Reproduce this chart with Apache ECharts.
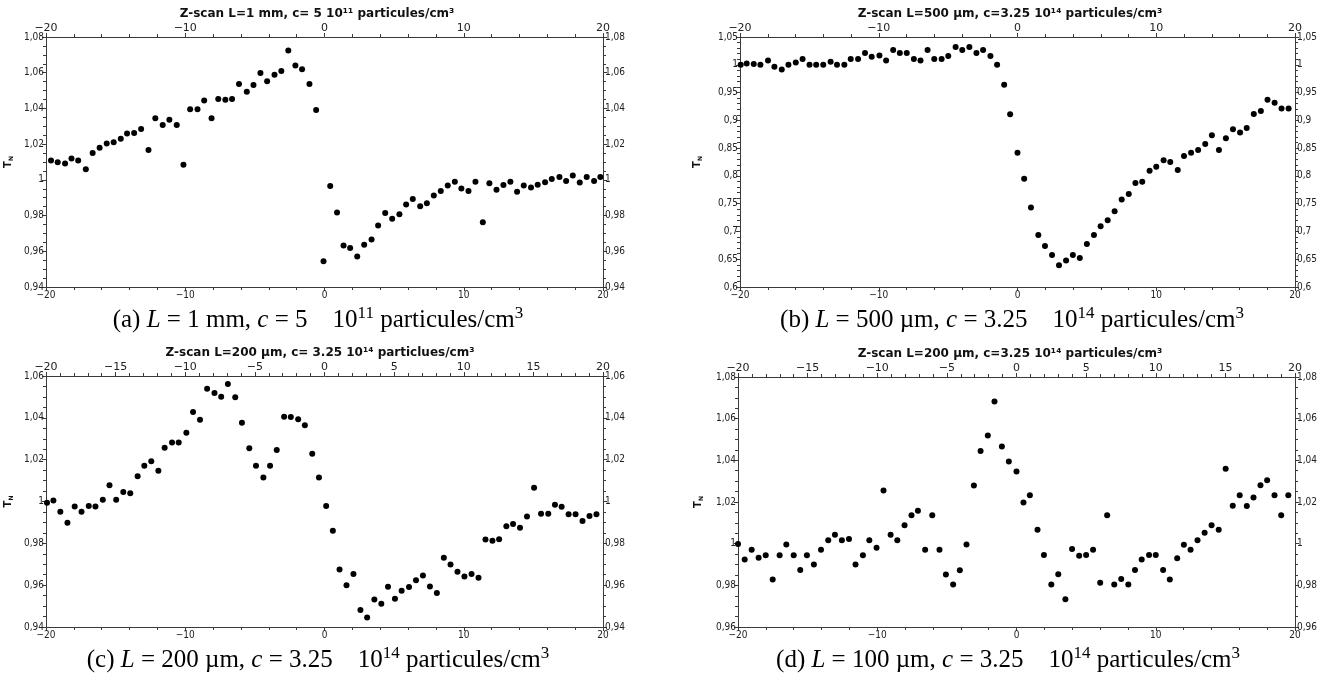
<!DOCTYPE html>
<html>
<head>
<meta charset="utf-8">
<script src="https://cdn.jsdelivr.net/npm/echarts@6/dist/echarts.min.js"></script>
<style>
  html, body { margin: 0; background: #fff; }
  #chart { width: 1338px; height: 687px; }
</style>
</head>
<body>
<div id="chart"></div>
<script>
// (a) L = 1 mm
var zA = [-19.64,-19.16,-18.63,-18.17,-17.69,-17.14,-16.65,-16.15,-15.64,-15.14,-14.63,-14.18,-13.67,-13.17,-12.64,-12.15,-11.62,-11.14,-10.61,-10.13,-9.65,-9.12,-8.64,-8.11,-7.63,-7.12,-6.64,-6.14,-5.58,-5.10,-4.60,-4.12,-3.59,-3.10,-2.60,-2.09,-1.61,-1.08,-0.60,-0.07,0.41,0.90,
  1.37,1.84,2.35,2.85,3.38,3.85,4.36,4.86,5.38,5.86,6.34,6.87,7.35,7.85,8.35,8.85,9.36,9.83,10.34,10.84,11.37,11.84,12.35,12.85,13.35,13.83,14.31,14.83,15.31,15.84,16.32,16.87,17.35,17.83,18.33,18.83,19.36,19.81];
var tA = [1.0109,1.0098,1.0091,1.0119,1.0109,1.0059,1.015,1.018,1.0203,1.021,1.023,1.0259,1.0262,1.0285,1.0167,1.0345,1.0307,1.0337,1.0307,1.0085,1.0395,1.0395,1.0445,1.0345,1.0453,1.0449,1.0453,1.0537,1.0494,1.0531,1.0598,1.0552,1.0589,1.061,1.0725,1.064,1.0619,1.0537,1.0391,0.9544,0.9966,0.9817,
  0.9633,0.9618,0.9571,0.9636,0.9666,0.9744,0.9815,0.9782,0.9808,0.9862,0.9893,0.9852,0.9869,0.9912,0.9938,0.9968,0.999,0.9951,0.9938,0.999,0.9763,0.9981,0.9944,0.9971,0.999,0.9934,0.9968,0.9957,0.9973,0.9986,1.0005,1.0016,0.9994,1.0025,0.9985,1.0016,0.9994,1.0016];

// (b) L = 500 µm
var zB = [-19.95,-19.52,-19.01,-18.53,-17.98,-17.52,-16.99,-16.51,-15.98,-15.49,-14.99,-14.51,-14.0,-13.47,-13.01,-12.48,-12.02,-11.49,-10.99,-10.51,-9.95,-9.47,-8.96,-8.48,-7.98,-7.47,-6.99,-6.48,-6.0,-5.47,-4.99,-4.46,-3.98,-3.47,-2.96,-2.48,-1.95,-1.47,-0.96,-0.53,
  0.0,0.48,0.97,1.5,1.98,2.49,2.99,3.5,3.99,4.49,5.0,5.51,5.99,6.5,7.0,7.51,8.02,8.5,8.99,9.52,10.0,10.53,11.01,11.55,12.0,12.51,13.02,13.53,14.01,14.52,15.02,15.53,16.04,16.52,17.03,17.54,18.02,18.53,19.03,19.54];
var tB = [1.0001,1.0025,1.0013,1.0001,1.0079,0.9965,0.9916,1.0001,1.0043,1.0103,1.0001,1.0001,1.0001,1.0055,1.0001,1.0001,1.0103,1.0103,1.0211,1.0145,1.0169,1.0079,1.0265,1.0211,1.0211,1.0103,1.0079,1.0265,1.0103,1.0103,1.0157,1.032,1.0265,1.032,1.0211,1.0265,1.0157,1.0001,0.964,0.911,
  0.8418,0.7949,0.7431,0.6938,0.6739,0.6577,0.639,0.6475,0.6577,0.6523,0.6776,0.6938,0.7094,0.7203,0.7365,0.7576,0.7672,0.7871,0.7895,0.8093,0.8165,0.828,0.825,0.8105,0.8358,0.8418,0.8466,0.8575,0.8731,0.8466,0.8677,0.8839,0.8779,0.8863,0.9116,0.917,0.9369,0.9315,0.9212,0.9212];

// (c) L = 200 µm
var zC = [-19.93,-19.47,-18.97,-18.46,-17.94,-17.45,-16.93,-16.45,-15.92,-15.44,-14.96,-14.45,-13.95,-13.42,-12.94,-12.44,-11.93,-11.48,-10.95,-10.47,-9.92,-9.44,-8.94,-8.43,-7.9,-7.42,-6.94,-6.41,-5.93,-5.4,-4.92,-4.39,-3.91,-3.43,-2.9,-2.42,-1.89,-1.41,-0.88,-0.4,0.12,0.6,1.08,
  1.58,2.08,2.58,3.06,3.58,4.08,4.56,5.06,5.54,6.07,6.57,7.07,7.57,8.07,8.57,9.05,9.55,10.05,10.56,11.06,11.56,12.06,12.54,13.06,13.54,14.04,14.54,15.05,15.55,16.07,16.55,17.03,17.53,18.03,18.53,19.03,19.53];
var tC = [0.9994,1.0005,0.9951,0.9898,0.9976,0.9951,0.9979,0.9976,1.0008,1.0078,1.0008,1.0045,1.004,1.0121,1.0171,1.0192,1.0147,1.0257,1.0282,1.0282,1.0329,1.0428,1.0391,1.0539,1.0519,1.0501,1.0562,1.0498,1.0377,1.0254,1.0171,1.0115,1.0171,1.0246,1.0405,1.0404,1.0393,1.0364,1.0228,1.0115,0.9978,0.986,0.9675,
  0.96,0.9653,0.9481,0.9445,0.9532,0.9511,0.9592,0.9535,0.9573,0.9591,0.9624,0.9646,0.9594,0.9562,0.9731,0.9699,0.9664,0.9642,0.9653,0.9635,0.9818,0.9812,0.982,0.9882,0.9893,0.9875,0.9928,1.0066,0.9942,0.9942,0.9985,0.9975,0.9939,0.9939,0.9907,0.9931,0.9939];

// (d) L = 100 µm
var zD = [-20.0,-19.52,-19.02,-18.52,-18.01,-17.51,-17.01,-16.53,-16.0,-15.53,-15.05,-14.55,-14.04,-13.52,-13.04,-12.54,-12.03,-11.56,-11.03,-10.57,-10.05,-9.55,-9.04,-8.56,-8.04,-7.54,-7.08,-6.56,-6.05,-5.53,-5.07,-4.55,-4.07,-3.59,-3.06,-2.58,-2.06,-1.58,-1.05,-0.55,
  0.0,0.5,0.96,1.51,1.97,2.5,3.0,3.51,3.99,4.5,5.0,5.5,6.01,6.51,7.02,7.52,8.03,8.51,8.99,9.52,10.0,10.53,11.01,11.54,12.02,12.5,13.0,13.51,14.01,14.52,15.02,15.53,16.03,16.54,17.02,17.52,18.0,18.53,19.01,19.52];
var tD = [0.9999,0.9924,0.9971,0.9932,0.9945,0.9828,0.9945,0.9996,0.9945,0.9874,0.9945,0.99,0.9971,1.0017,1.0043,1.0017,1.0022,0.99,0.9945,1.0017,0.998,1.0255,1.0043,1.0017,1.0088,1.0137,1.0158,0.9971,1.0137,0.9971,0.9852,0.9804,0.9873,0.9996,1.0279,1.0445,1.0519,1.0683,1.0466,1.0394,
  1.0346,1.0198,1.0232,1.0067,0.9946,0.9804,0.9853,0.9733,0.9975,0.9942,0.9946,0.9971,0.9813,1.0137,0.9804,0.9831,0.9804,0.9874,0.9924,0.9946,0.9946,0.9874,0.9828,0.993,0.9995,0.9971,1.0017,1.0052,1.0088,1.0067,1.036,1.0182,1.0232,1.0181,1.0222,1.028,1.0304,1.0232,1.0137,1.0232];

var titles = [
  'Z-scan L=1 mm, c= 5 10\u00b9\u00b9 particules/cm\u00b3',
  'Z-scan L=500 \u00b5m, c=3.25 10\u00b9\u2074 particules/cm\u00b3',
  'Z-scan L=200 \u00b5m, c= 3.25 10\u00b9\u2074 particlues/cm\u00b3',
  'Z-scan L=200 \u00b5m, c=3.25 10\u00b9\u2074 particules/cm\u00b3'
];
var captions = [
  ['(a) ', 'L', ' = 1 mm, ', 'c', ' = 5    10', '11'],
  ['(b) ', 'L', ' = 500 \u00b5m, ', 'c', ' = 3.25    10', '14'],
  ['(c) ', 'L', ' = 200 \u00b5m, ', 'c', ' = 3.25    10', '14'],
  ['(d) ', 'L', ' = 100 \u00b5m, ', 'c', ' = 3.25    10', '14']
];
var yRanges = [[0.94, 1.08, 0.02, 4], [0.6, 1.05, 0.05, 5], [0.94, 1.06, 0.02, 4], [0.96, 1.08, 0.02, 4]];
var topStep = [10, 10, 5, 5];

var panels = [[zA, tA], [zB, tB], [zC, tC], [zD, tD]];
var boxes = [
  {left: 46, top: 37, width: 557, height: 250, nameGap: 32, titleX: 317, capX: 318},
  {left: 740, top: 37, width: 555, height: 250, nameGap: 37, titleX: 1010, capX: 1012},
  {left: 46, top: 376, width: 557, height: 251, nameGap: 32, titleX: 320, capX: 318},
  {left: 738, top: 377, width: 557, height: 250, nameGap: 34, titleX: 1010, capX: 1008}
];

var axisCol = '#3a3a3a';
var labelFont = '"DejaVu Sans Condensed", "Liberation Sans Narrow", "DejaVu Sans", sans-serif';
var serif = '"Liberation Serif", "DejaVu Serif", serif';

function fmtX(v) {
  return v < 0 ? '\u2212' + (-v) : String(v);
}
function fmtY(v) {
  return String(parseFloat(v.toFixed(3))).replace('.', ',');
}

var grid = [], xAxis = [], yAxis = [], series = [], graphic = [];

boxes.forEach(function (b, i) {
  grid.push({left: b.left, top: b.top, width: b.width, height: b.height});
  var common = {
    type: 'value', gridIndex: i, min: -20, max: 20,
    axisLine: {show: true, onZero: false, lineStyle: {color: axisCol, width: 1}},
    axisTick: {show: true, length: 4, lineStyle: {color: axisCol}},
    minorTick: {show: true, splitNumber: 5, length: 3, lineStyle: {color: axisCol}},
    splitLine: {show: false}
  };
  xAxis.push(Object.assign({}, common, {
    position: 'bottom', interval: 10,
    axisLabel: {formatter: fmtX, fontSize: 10, color: '#222', margin: 3, fontFamily: labelFont}
  }));
  xAxis.push(Object.assign({}, common, {
    position: 'top', interval: topStep[i],
    axisLabel: {formatter: fmtX, fontSize: 11, color: '#222', margin: 3, fontFamily: '"DejaVu Sans", sans-serif'}
  }));

  var r = yRanges[i];
  var ycommon = {
    type: 'value', gridIndex: i, min: r[0], max: r[1], interval: r[2],
    axisLine: {show: true, onZero: false, lineStyle: {color: axisCol, width: 1}},
    axisTick: {show: true, length: 4, lineStyle: {color: axisCol}},
    minorTick: {show: true, splitNumber: r[3], length: 3, lineStyle: {color: axisCol}},
    splitLine: {show: false}
  };
  yAxis.push(Object.assign({}, ycommon, {
    position: 'left',
    name: '{t|T}{s|N}', nameLocation: 'middle', nameGap: b.nameGap, nameRotate: 90,
    nameTextStyle: {
      rich: {
        t: {fontSize: 10, fontWeight: 'bold', color: '#111', fontFamily: '"DejaVu Sans", sans-serif', lineHeight: 12},
        s: {fontSize: 6, fontWeight: 'bold', color: '#111', fontFamily: '"DejaVu Sans", sans-serif', verticalAlign: 'bottom', lineHeight: 8}
      }
    },
    axisLabel: {formatter: fmtY, fontSize: 10, color: '#222', margin: 2, fontFamily: labelFont}
  }));
  yAxis.push(Object.assign({}, ycommon, {
    position: 'right',
    axisLabel: {formatter: fmtY, fontSize: 10, color: '#222', margin: 2, fontFamily: labelFont}
  }));

  var zs = panels[i][0], ts = panels[i][1];
  series.push({
    type: 'scatter', xAxisIndex: 2 * i, yAxisIndex: 2 * i,
    symbol: 'circle', symbolSize: 6,
    itemStyle: {color: '#000', opacity: 1},
    data: zs.map(function (z, k) { return [z, ts[k]]; })
  });

  graphic.push({
    type: 'text', x: b.titleX, y: b.top - 23,
    style: {
      text: titles[i], align: 'center', verticalAlign: 'middle',
      font: 'bold 12px "DejaVu Sans", sans-serif', fill: '#111'
    }
  });

  var c = captions[i];
  graphic.push({
    type: 'text', x: b.capX, y: b.top + b.height + 33,
    style: {
      text: '{n|' + c[0] + '}{i|' + c[1] + '}{n|' + c[2] + '}{i|' + c[3] + '}{n|' + c[4] + '}{s|' + c[5] + '}{n| particules/cm}{s|3}',
      align: 'center', verticalAlign: 'middle',
      rich: {
        n: {fontSize: 25, fontFamily: serif, color: '#000', lineHeight: 30},
        i: {fontSize: 25, fontStyle: 'italic', fontFamily: serif, color: '#000', lineHeight: 30},
        s: {fontSize: 17, fontFamily: serif, color: '#000', lineHeight: 17, verticalAlign: 'top'}
      }
    }
  });
});

var chart = echarts.init(document.getElementById('chart'), null, {renderer: 'canvas'});
chart.setOption({
  animation: false,
  backgroundColor: '#fff',
  grid: grid,
  xAxis: xAxis,
  yAxis: yAxis,
  series: series,
  graphic: graphic
});
window.addEventListener('resize', chart.resize);
</script>
</body>
</html>
